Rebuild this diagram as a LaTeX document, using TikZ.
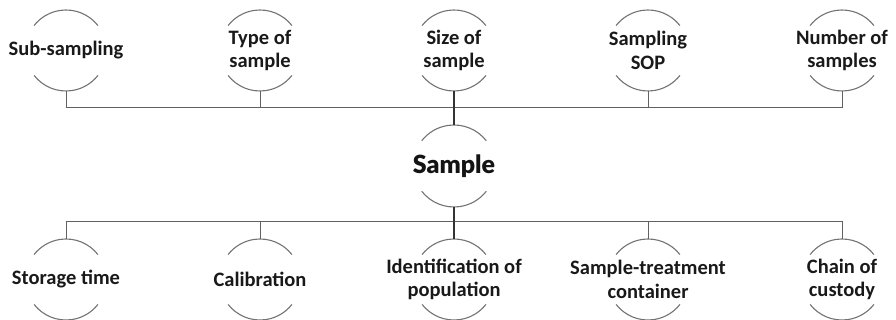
\documentclass[tikz,border=0pt]{standalone}
\usepackage{fontspec}
\setmainfont{Carlito}
\newfontfamily\blk{Lato Black}
\tikzset{
  lbl/.style={rectangle, minimum width=81pt, minimum height=81pt, inner sep=0pt, outer sep=0pt,
    align=center, font=\fontsize{20.5}{23.5}\selectfont\bfseries, text=black!90},
  hub/.style={rectangle, minimum width=82pt, minimum height=82pt, inner sep=0pt, outer sep=0pt,
    align=center, font=\blk\fontsize{25}{28}\selectfont, text=black!92},
  arcline/.style={draw=black!55, line width=1.1pt},
  busline/.style={draw=black!62, line width=1pt},
  stemline/.style={draw=black!80, line width=1.5pt}
}
\newcommand{\twoarcs}[2]{%
  \draw[arcline] ([shift={(38:#2)}]#1.center) arc[start angle=38, end angle=142, radius=#2];
  \draw[arcline] ([shift={(218:#2)}]#1.center) arc[start angle=218, end angle=322, radius=#2];}
\begin{document}
\begin{tikzpicture}[x=1pt,y=1pt]
\useasboundingbox (0,0) rectangle (896,320);
% top row
\node[lbl] (t1) at (66,269.5) {Sub-sampling};
\node[lbl] (t2) at (260,269.5) {Type of\\sample};
\node[lbl] (t3) at (454,269.5) {Size of\\sample};
\node[lbl] (t4) at (648,269.5) {Sampling\\SOP};
\node[lbl] (t5) at (842,269.5) {Number of\\samples};
% hub
\node[hub] (s) at (454,154) {\raisebox{3pt}{Sample}};
% bottom row
\node[lbl] (b1) at (66,40.5) {Storage time};
\node[lbl] (b2) at (260,40.5) {Calibration};
\node[lbl] (b3) at (454,40.5) {Identification of\\population};
\node[lbl] (b4) at (648,40.5) {Sample-treatment\\container};
\node[lbl] (b5) at (842,40.5) {Chain of\\custody};
% arcs
\foreach \n in {t1,t2,t3,t4,t5,b1,b2,b3,b4,b5}{\twoarcs{\n}{40.5pt}}
\twoarcs{s}{41pt}
% buses
\coordinate (tb) at (0,212);
\coordinate (bb) at (0,98);
\draw[busline] (t1.south) |- (t5.south |- tb) -- (t5.south);
\foreach \n in {t2,t4}{\draw[busline] (\n.south) -- (\n.south |- tb);}
\draw[busline] (b1.north) |- (b5.north |- bb) -- (b5.north);
\foreach \n in {b2,b4}{\draw[busline] (\n.north) -- (\n.north |- bb);}
% central stems
\draw[stemline] (t3.south) -- (s.north);
\draw[stemline] (s.south) -- (b3.north);
\end{tikzpicture}
\end{document}
